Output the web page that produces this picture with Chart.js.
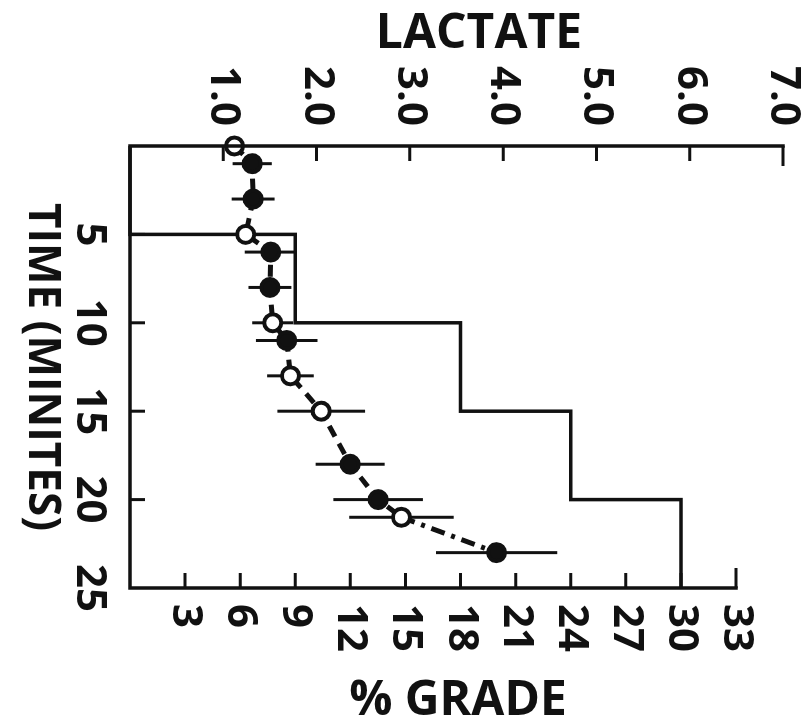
<!DOCTYPE html>
<html>
<head>
<meta charset="utf-8">
<script src="https://cdn.jsdelivr.net/npm/chart.js@4.4.1/dist/chart.umd.min.js"></script>
<style>
html, body { margin: 0; padding: 0; background: #fff; overflow: hidden; }
/* the figure is printed turned on its side, so draw it upright and turn the canvas */
#wrap { position: absolute; left: 0; top: 0; width: 724px; height: 801px;
        transform-origin: 0 0; transform: translate(801px, 0) rotate(90deg); }
</style>
</head>
<body>
<div id="wrap"><canvas id="lactateChart" width="724" height="801"></canvas></div>
<script>
// blood samples
const sampleTimes   = [0, 1, 3, 5, 6, 8, 10, 11, 13, 15, 18, 20, 21, 23];
const lactateMeans  = [1.12, 1.31, 1.32, 1.24, 1.51, 1.50, 1.53, 1.68, 1.72, 2.05, 2.36, 2.66, 2.91, 3.93];
const lactateErrors = [0, 0.21, 0.23, 0, 0.28, 0.23, 0.22, 0.33, 0.25, 0.47, 0.37, 0.48, 0.56, 0.65];
const openMarkers   = [true, false, false, true, false, false, true, false, true, true, false, false, true, false];

// treadmill stages
const stageTimes  = [0, 5, 10, 15, 20, 25];
const stageGrades = [0, 9, 18, 24, 30, 30];

// tick values
const timeTicks    = [5, 10, 15, 20, 25];
const lactateTicks = [1, 2, 3, 4, 5, 6, 7];
const gradeTicks   = [3, 6, 9, 12, 15, 18, 21, 24, 27, 30, 33];

const ink = '#111';
const tickFont = { family: 'Open Sans', size: 42, weight: 'bold' };

// axes with inward ticks, error bars and the two sideways titles
const frame = {
    id: 'frame',
    beforeDatasetsDraw(chart) {
        const { ctx, scales: { x, yLac } } = chart;
        ctx.save();
        ctx.strokeStyle = ink;
        ctx.lineWidth = 3;
        sampleTimes.forEach(function(t, i){
            if (!lactateErrors[i]) return;
            const px = x.getPixelForValue(t);
            ctx.beginPath();
            ctx.moveTo(px, yLac.getPixelForValue(lactateMeans[i] - lactateErrors[i]));
            ctx.lineTo(px, yLac.getPixelForValue(lactateMeans[i] + lactateErrors[i]));
            ctx.stroke();
        });
        ctx.restore();
    },
    afterDraw(chart) {
        const { ctx, scales: { x, yLac, yGrade } } = chart;
        const x0 = x.getPixelForValue(0), x1 = x.getPixelForValue(25);
        const yBase = yLac.getPixelForValue(0);
        ctx.save();
        ctx.strokeStyle = ink;
        ctx.lineWidth = 3.5;
        ctx.lineCap = 'square';
        ctx.beginPath();
        // lactate axis
        ctx.moveTo(x0, yBase);
        ctx.lineTo(x0, yLac.getPixelForValue(7));
        // time axis
        ctx.moveTo(x0, yBase);
        ctx.lineTo(x1, yBase);
        // grade axis
        ctx.moveTo(x1, yGrade.getPixelForValue(0));
        ctx.lineTo(x1, yGrade.getPixelForValue(33));
        ctx.stroke();

        ctx.lineWidth = 3;
        ctx.lineCap = 'butt';
        ctx.beginPath();
        lactateTicks.forEach(function(v){
            const py = yLac.getPixelForValue(v);
            ctx.moveTo(x0, py);
            ctx.lineTo(x0 + (v === 7 ? 20 : 15), py);
        });
        gradeTicks.forEach(function(v){
            const py = yGrade.getPixelForValue(v);
            ctx.moveTo(x1, py);
            ctx.lineTo(x1 - (v === 33 ? 20 : 15), py);
        });
        timeTicks.forEach(function(v){
            if (v === 25) return;
            const px = x.getPixelForValue(v);
            ctx.moveTo(px, yBase);
            ctx.lineTo(px, yBase - 15);
        });
        ctx.stroke();

        // titles read left to right once the canvas is turned
        ctx.fillStyle = ink;
        ctx.font = 'bold 48px "Open Sans"';
        ctx.textAlign = 'center';
        ctx.textBaseline = 'middle';
        ctx.translate(34, 322);
        ctx.rotate(-Math.PI / 2);
        ctx.fillText('LACTATE', 0, 0);
        ctx.setTransform(1, 0, 0, 1, 0, 0);
        ctx.translate(701, 343);
        ctx.rotate(-Math.PI / 2);
        ctx.fillText('% GRADE', 0, 0);
        ctx.restore();
    }
};

const ctx = document.getElementById('lactateChart').getContext('2d');
const lactateChart = new Chart(ctx, {
    type: 'line',
    data: {
        datasets: [{
            label: 'Lactate',
            data: sampleTimes.map((t, i) => ({ x: t, y: lactateMeans[i] })),
            yAxisID: 'yLac',
            borderColor: ink,
            borderWidth: 5,
            borderDash: [12, 8],
            segment: {
                borderDash: c => c.p1DataIndex === sampleTimes.length - 1 ? [14, 7, 4, 7] : undefined
            },
            pointRadius: 8.5,
            pointBorderWidth: 4,
            pointBorderColor: ink,
            pointBackgroundColor: openMarkers.map(o => o ? '#fff' : ink),
            clip: false
        }, {
            label: 'Grade',
            data: stageTimes.map((t, i) => ({ x: t, y: stageGrades[i] })),
            yAxisID: 'yGrade',
            stepped: 'before',
            borderColor: ink,
            borderWidth: 3.5,
            pointRadius: 0,
            clip: false
        }]
    },
    options: {
        responsive: false,
        animation: false,
        devicePixelRatio: 1,
        layout: { padding: { top: 18, left: 0, right: 0, bottom: 0 } },
        plugins: {
            legend: { display: false },
            tooltip: { enabled: false }
        },
        scales: {
            x: {
                type: 'linear',
                position: 'bottom',
                min: 0,
                max: 25,
                afterBuildTicks: s => { s.ticks = timeTicks.map(v => ({ value: v })); },
                afterFit: s => { s.height = 130; s.paddingLeft = 0; s.paddingRight = 0; },
                grid: { display: false, drawTicks: false },
                border: { display: false },
                ticks: { font: tickFont, color: ink, padding: 16, maxRotation: 0, minRotation: 0, autoSkip: false },
                title: {
                    display: true,
                    text: 'TIME (MINITES)',
                    color: ink,
                    font: { family: 'Open Sans', size: 44, weight: 'bold', lineHeight: 1 },
                    padding: { top: 0, bottom: 20 }
                }
            },
            yLac: {
                type: 'linear',
                position: 'left',
                min: 0,
                max: 7,
                afterBuildTicks: s => { s.ticks = lactateTicks.map(v => ({ value: v })); },
                afterFit: s => { s.width = 146; s.paddingTop = 0; s.paddingBottom = 0; },
                grid: { display: false, drawTicks: false },
                border: { display: false },
                ticks: { font: tickFont, color: ink, padding: 20, callback: v => v.toFixed(1) }
            },
            yGrade: {
                type: 'linear',
                position: 'right',
                min: 0,
                max: 35.56,
                afterBuildTicks: s => { s.ticks = gradeTicks.map(v => ({ value: v })); },
                afterFit: s => { s.width = 136; s.paddingTop = 0; s.paddingBottom = 0; },
                grid: { display: false, drawTicks: false },
                border: { display: false },
                ticks: { font: tickFont, color: ink, padding: 16 }
            }
        }
    },
    plugins: [frame]
});
</script>
</body>
</html>
